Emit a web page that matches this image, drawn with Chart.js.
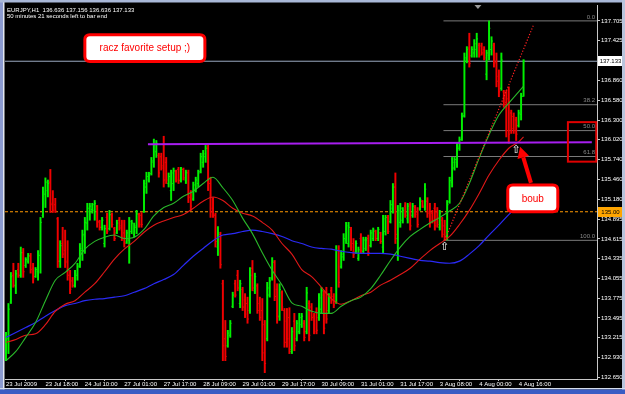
<!DOCTYPE html>
<html>
<head>
<meta charset="utf-8">
<script src="https://cdn.jsdelivr.net/npm/chart.js@4.4.1/dist/chart.umd.min.js"></script>
<style>
html,body{margin:0;padding:0;background:#000;overflow:hidden;}
canvas{display:block;}
</style>
</head>
<body>
<canvas id="chart" width="625" height="394"></canvas>
<script>
// ---------------- DATA (EURJPY, H1) ----------------
const symbolTitle = 'EURJPY,H1  136.636 137.156 136.636 137.133';
const timerText = '50 minutes 21 seconds left to bar end';

// x-axis tick labels: every 16 hourly bars
const timeTickIndex = [0, 16, 32, 48, 64, 80, 96, 112, 128, 144, 160, 176, 192, 208];
const timeTickLabels = ['23 Jul 2009', '23 Jul 18:00', '24 Jul 10:00', '27 Jul 01:00', '27 Jul 17:00',
  '28 Jul 09:00', '29 Jul 01:00', '29 Jul 17:00', '30 Jul 09:00', '31 Jul 01:00', '31 Jul 17:00',
  '3 Aug 08:00', '4 Aug 00:00', '4 Aug 16:00'];

// price-axis tick labels
const priceTickLabels = ['137.705', '137.425', '136.860', '136.580', '136.300', '136.020', '135.740',
  '135.460', '135.180', '134.895', '134.615', '134.335', '134.055', '133.775', '133.495', '133.215',
  '132.930', '132.650'];

// OHLC bars (one per hour)
const open = [132.95,133.20,133.72,134.10,133.95,134.18,134.10,134.42,134.24,134.30,
  134.37,134.20,134.08,134.15,134.38,134.95,135.25,135.30,135.42,135.12,
  135.10,134.90,134.30,134.55,134.45,134.30,134.10,134.02,133.96,134.10,
  134.24,134.45,134.66,134.84,135.00,135.03,135.02,135.08,134.86,134.78,
  134.55,134.92,134.76,134.95,134.76,134.70,134.88,134.80,134.70,134.57,
  134.60,134.72,134.68,134.78,134.96,134.95,135.00,135.35,135.45,135.54,
  135.70,135.85,135.80,135.78,135.65,135.70,135.40,135.30,135.40,135.57,
  135.60,135.45,135.60,135.45,135.55,135.22,135.18,135.32,135.40,135.57,
  135.70,135.78,135.90,135.40,135.05,134.95,134.50,134.68,133.98,133.20,
  133.10,133.25,133.66,133.98,134.10,133.70,133.90,133.75,133.70,133.60,
  134.20,133.88,133.95,133.70,133.60,133.40,133.20,133.82,134.06,134.28,
  133.90,133.52,133.85,133.60,133.45,133.50,133.02,133.45,133.20,133.30,
  133.40,133.42,133.30,133.70,133.65,133.52,133.58,133.50,133.62,133.82,
  133.85,133.60,133.88,133.80,133.72,134.45,134.22,134.36,134.60,134.55,
  134.75,134.55,134.43,134.34,134.62,134.44,134.48,134.62,134.52,134.62,
  134.72,134.62,134.70,134.50,134.72,134.92,134.86,135.05,135.35,134.62,
  134.85,134.88,135.08,134.90,135.10,134.95,135.06,135.00,135.04,135.15,
  135.06,135.15,135.00,134.98,135.05,135.00,134.78,134.88,134.80,134.66,
  135.14,135.42,135.62,135.70,135.90,136.03,136.36,137.15,137.32,137.21,
  137.25,137.30,137.36,137.35,137.30,136.95,137.22,137.30,137.36,137.12,
  136.92,136.75,136.70,136.55,136.60,136.40,136.35,136.30,136.22,136.38,
  136.636];
const high = [133.29,133.70,134.14,134.27,134.17,134.27,134.50,134.48,134.35,134.41,
  134.41,134.27,134.21,134.45,134.92,135.35,135.48,135.45,135.60,135.30,
  135.19,134.92,134.59,134.78,134.74,134.59,134.17,134.07,134.17,134.27,
  134.55,134.74,134.92,135.12,135.12,135.12,135.16,135.09,134.88,134.92,
  134.81,134.98,135.02,134.98,134.78,134.88,134.92,134.88,134.88,134.74,
  134.92,134.88,134.84,135.02,134.98,134.99,135.45,135.56,135.56,135.77,
  136.03,136.01,135.83,135.83,136.07,135.77,135.55,135.59,135.62,135.59,
  135.63,135.63,135.62,135.59,135.59,135.30,135.42,135.49,135.59,135.83,
  135.87,135.94,135.97,135.49,135.20,134.98,134.79,134.71,134.03,133.46,
  133.32,133.46,133.86,134.03,134.17,134.03,133.93,133.84,133.79,134.21,
  134.31,134.13,133.98,133.79,133.77,133.46,134.00,134.07,134.35,134.31,
  133.98,133.98,133.88,133.63,133.63,133.64,133.36,133.56,133.46,133.56,
  133.56,133.46,133.93,133.74,133.70,133.56,133.64,133.84,133.93,133.88,
  133.93,133.84,133.93,133.84,134.52,134.52,134.45,134.69,134.85,134.85,
  134.78,134.62,134.59,134.50,134.69,134.64,134.64,134.67,134.74,134.77,
  134.74,134.78,134.71,134.95,134.95,134.95,135.16,135.40,135.55,135.09,
  135.12,135.06,135.13,135.12,135.13,135.12,135.09,135.06,135.20,135.16,
  135.40,135.20,135.12,135.02,135.12,135.06,135.02,134.92,134.88,135.16,
  135.49,135.77,135.77,135.97,136.06,136.40,137.25,137.34,137.53,137.34,
  137.44,137.53,137.39,137.39,137.34,137.29,137.705,137.48,137.39,137.25,
  137.01,137.25,136.72,136.72,136.77,136.44,136.40,136.34,136.44,136.68,
  137.156];
const low = [132.89,132.99,133.70,133.93,133.84,134.07,134.07,134.07,134.21,134.27,
  134.13,133.99,134.07,134.03,134.13,134.92,135.06,135.21,134.99,134.99,
  134.99,134.21,134.21,134.35,134.21,134.03,133.84,133.93,133.93,134.03,
  134.21,134.31,134.41,134.74,134.88,134.98,134.88,134.78,134.74,134.74,
  134.50,134.69,134.74,134.78,134.59,134.69,134.74,134.59,134.50,134.55,
  134.27,134.69,134.64,134.69,134.78,134.78,134.99,135.26,135.42,135.52,
  135.63,135.77,135.49,135.59,135.35,135.40,135.35,135.16,135.30,135.42,
  135.40,135.42,135.45,135.40,135.13,135.02,135.16,135.28,135.35,135.55,
  135.63,135.70,135.30,134.92,134.92,134.50,134.38,134.20,132.89,132.89,
  133.08,133.22,133.64,133.79,133.88,133.64,133.60,133.50,133.42,133.56,
  133.88,133.84,133.56,133.46,132.89,132.72,133.17,133.79,134.03,133.74,
  133.42,133.46,133.60,133.08,133.08,132.99,132.99,133.03,133.17,133.27,
  133.36,133.17,133.27,133.17,133.46,133.27,133.27,133.46,133.56,133.27,
  133.42,133.56,133.70,133.64,133.70,133.93,134.20,134.31,134.55,134.50,
  134.45,134.35,134.41,134.31,134.41,134.41,134.45,134.38,134.50,134.59,
  134.59,134.59,134.55,134.41,134.67,134.69,134.84,134.98,134.55,134.31,
  134.78,134.84,134.92,134.84,134.74,134.92,134.92,134.78,135.02,135.06,
  135.02,134.92,134.78,134.84,134.74,134.78,134.74,134.64,134.595,134.60,
  135.12,135.35,135.59,135.63,135.87,136.01,136.34,137.11,137.05,137.19,
  137.19,137.19,137.19,137.22,137.15,136.87,137.15,137.22,137.05,136.77,
  136.63,136.72,136.48,136.06,135.97,136.11,136.11,136.01,136.20,136.30,
  136.636];
const close = [133.22,133.62,134.08,133.96,134.12,134.10,134.42,134.15,134.32,134.38,
  134.18,134.05,134.18,134.40,134.85,135.28,135.42,135.40,135.10,135.02,
  135.01,134.30,134.52,134.40,134.28,134.10,133.90,133.95,134.12,134.22,
  134.48,134.68,134.85,135.05,135.08,135.10,135.12,134.85,134.78,134.88,
  134.76,134.72,134.96,134.82,134.62,134.84,134.77,134.62,134.55,134.70,
  134.86,134.84,134.80,134.97,134.82,134.82,135.40,135.50,135.52,135.72,
  135.95,135.97,135.55,135.62,135.45,135.45,135.50,135.55,135.58,135.45,
  135.44,135.60,135.48,135.56,135.20,135.08,135.38,135.45,135.55,135.78,
  135.82,135.90,135.40,135.00,134.96,134.58,134.70,134.25,133.10,132.95,
  133.28,133.42,133.82,133.82,133.92,133.98,133.65,133.55,133.48,134.10,
  133.92,134.08,133.60,133.50,133.00,132.85,133.92,134.02,134.30,133.80,
  133.50,133.90,133.65,133.15,133.20,133.05,133.30,133.10,133.42,133.50,
  133.52,133.22,133.85,133.25,133.50,133.30,133.32,133.78,133.88,133.35,
  133.48,133.80,133.74,133.68,134.45,134.00,134.40,134.62,134.80,134.78,
  134.50,134.40,134.55,134.46,134.45,134.60,134.60,134.42,134.70,134.74,
  134.62,134.75,134.58,134.90,134.92,134.72,135.10,135.35,134.68,135.02,
  135.05,135.02,134.95,135.08,134.80,135.08,134.96,134.82,135.17,135.08,
  135.32,134.98,134.84,134.88,134.80,134.82,134.98,134.68,134.65,135.10,
  135.44,135.70,135.74,135.92,136.02,136.35,137.18,137.30,137.10,137.30,
  137.38,137.45,137.22,137.25,137.18,137.25,137.60,137.42,137.10,136.85,
  136.70,137.15,136.52,136.15,136.10,136.18,136.15,136.10,136.40,136.636,
  137.133];

// moving averages, read every 4 bars
const maIndex = [0,4,8,12,16,20,24,28,32,36,40,44,48,52,56,60,64,68,72,76,80,84,88,92,96,100,
  104,108,112,116,120,124,128,132,136,140,144,148,152,156,160,164,168,172,176,180,184,188,192,196,
  200,204,208,210];
const maFast = [132.89,133.02,133.22,133.43,133.74,134.03,134.14,134.27,134.47,134.58,134.64,134.67,
  134.62,134.64,134.75,134.94,135.06,135.12,135.22,135.29,135.40,135.49,135.34,135.16,134.91,134.69,
  134.42,134.17,133.96,133.71,133.66,133.59,133.56,133.56,133.66,133.74,133.79,133.91,134.10,134.31,
  134.50,134.65,134.75,134.84,134.92,135.01,135.12,135.40,135.76,136.09,136.37,136.54,136.70,136.78];
const maMid = [133.15,133.19,133.25,133.27,133.40,133.59,133.69,133.74,133.86,133.98,134.15,134.33,
  134.47,134.58,134.71,134.81,134.87,134.92,134.96,135.05,135.15,135.21,135.16,135.05,134.98,134.94,
  134.85,134.74,134.55,134.40,134.18,134.08,133.93,133.77,133.69,133.74,133.81,133.86,133.96,134.03,
  134.11,134.20,134.33,134.45,134.55,134.65,134.82,135.02,135.26,135.52,135.73,135.90,135.99,136.06];
const maSlow = [133.22,133.29,133.36,133.43,133.52,133.60,133.67,133.70,133.74,133.76,133.77,133.79,
  133.81,133.86,133.91,133.98,134.04,134.11,134.24,134.37,134.48,134.59,134.67,134.69,134.72,134.74,
  134.72,134.69,134.65,134.59,134.55,134.50,134.48,134.47,134.44,134.42,134.41,134.41,134.41,134.40,
  134.37,134.34,134.31,134.30,134.28,134.27,134.30,134.40,134.52,134.67,134.81,134.96,135.09,135.16];

// drawn objects
const currentPrice = 137.133;
const alertLevel = 135.00;
const fibHigh = 137.705, fibLow = 134.595, fibStartBar = 177.5;
const fibRatios = [0, 38.2, 50, 61.8, 100];
const supportLine = [{x: 57.6, y: 135.955}, {x: 237.7, y: 135.985}];
const trendLine = [{x: 178, y: 134.595}, {x: 214.2, y: 137.66}];
</script>
<script>
// ---------------- LAYOUT / STYLE ----------------
const X_MIN = -0.4, X_MAX = 239.8, Y_MIN = 132.63, Y_MAX = 137.93;
const FONT = 'Liberation Sans, Arial, sans-serif';
const notes = {
  setupBox: {x0: 32, x1: 80.7, y0: 137.51, y1: 137.13, text: 'racz favorite setup ;)'},
  boubBox: {x0: 203.6, x1: 223.9, y0: 135.38, y1: 135.00, text: 'boub'},
  arrow: {fromX: 213.0, fromY: 135.41, toX: 208.6, toY: 135.92},
  rect: {x0: 228, x1: 239.5, y0: 136.27, y1: 135.71},
  upArrows: [{x: 178, y: 134.50}, {x: 207, y: 135.87}],
  shiftMarker: 191.5
};

const bullColor = '#00f000', bearColor = '#f00000';
const barPoints = open.map((o, i) => ({x: i, y: [low[i], high[i]]}));
const barColors = open.map((o, i) => close[i] >= o ? bullColor : bearColor);
const maPts = arr => arr.map((v, k) => ({x: maIndex[k], y: v}));
const hLine = (v, x0 = X_MIN, x1 = X_MAX) => [{x: x0, y: v}, {x: x1, y: v}];
const fibLevels = fibRatios.map(r => fibHigh - (fibHigh - fibLow) * r / 100);

const lineDs = (data, color, extra) => Object.assign({
  type: 'line', data, borderColor: color, borderWidth: 1, pointRadius: 0,
  fill: false, tension: 0
}, extra || {});

const datasets = [
  {type: 'bar', label: 'bars', data: barPoints, backgroundColor: barColors, borderWidth: 0,
   barThickness: 1.3, order: 5},
  lineDs(maPts(maFast), '#2ab82a', {order: 2, borderWidth: 1.1, cubicInterpolationMode: 'monotone'}),
  lineDs(maPts(maMid), '#e01818', {order: 2, borderWidth: 1.1, cubicInterpolationMode: 'monotone'}),
  lineDs(maPts(maSlow), '#2a2af5', {order: 2, borderWidth: 1.2, cubicInterpolationMode: 'monotone'}),
  lineDs(hLine(currentPrice), '#9aa9c0', {order: 8}),
  lineDs(hLine(alertLevel), '#ff9900', {order: 8, borderDash: [3, 2]}),
  ...fibLevels.map(v => lineDs(hLine(v, fibStartBar, X_MAX), '#7a7a7a', {order: 8})),
  lineDs(supportLine, '#a81ef0', {order: 1, borderWidth: 2}),
  lineDs(trendLine, '#ff2020', {order: 1, borderDash: [1.2, 1.8], borderWidth: 1.2})
];

function roundRect(ctx, x, y, w, h, r) {
  ctx.beginPath();
  ctx.moveTo(x + r, y); ctx.lineTo(x + w - r, y); ctx.quadraticCurveTo(x + w, y, x + w, y + r);
  ctx.lineTo(x + w, y + h - r); ctx.quadraticCurveTo(x + w, y + h, x + w - r, y + h);
  ctx.lineTo(x + r, y + h); ctx.quadraticCurveTo(x, y + h, x, y + h - r);
  ctx.lineTo(x, y + r); ctx.quadraticCurveTo(x, y, x + r, y); ctx.closePath();
}

const ohlcTicks = {
  id: 'ohlcTicks',
  afterDatasetDraw(chart, args) {
    if (chart.data.datasets[args.index].label !== 'bars') return;
    const {ctx, scales: {x, y}, chartArea} = chart;
    ctx.save();
    ctx.beginPath(); ctx.rect(chartArea.left, chartArea.top, chartArea.width, chartArea.height); ctx.clip();
    open.forEach((o, i) => {
      const px = x.getPixelForValue(i);
      ctx.fillStyle = barColors[i];
      ctx.fillRect(px - 1.3, y.getPixelForValue(o) - 0.5, 1.3, 1);
      ctx.fillRect(px, y.getPixelForValue(close[i]) - 0.5, 1.3, 1);
    });
    ctx.restore();
  }
};

const decor = {
  id: 'decor',
  beforeDraw(chart) {
    const ctx = chart.ctx;
    ctx.save(); ctx.fillStyle = '#000'; ctx.fillRect(0, 0, chart.width, chart.height); ctx.restore();
  },
  afterDraw(chart) {
    const {ctx, scales: {x, y}, chartArea: ca} = chart;
    ctx.save();
    // top-left info text
    ctx.fillStyle = '#ffffff'; ctx.font = '6px ' + FONT; ctx.textBaseline = 'middle'; ctx.textAlign = 'left';
    ctx.fillText(symbolTitle, 7, 10);
    ctx.fillText(timerText, 7, 16.5);
    // fib labels
    ctx.fillStyle = '#8a8a8a'; ctx.textAlign = 'right'; ctx.textBaseline = 'bottom';
    fibLevels.forEach((v, k) => ctx.fillText(fibRatios[k].toFixed(1), ca.right - 2, y.getPixelForValue(v) - 1));
    // shift marker
    const sx = x.getPixelForValue(notes.shiftMarker);
    ctx.fillStyle = '#9a9a9a';
    ctx.beginPath(); ctx.moveTo(sx - 3.5, ca.top); ctx.lineTo(sx + 3.5, ca.top); ctx.lineTo(sx, ca.top + 4); ctx.closePath(); ctx.fill();
    // up arrows
    ctx.fillStyle = '#ffffff'; ctx.font = '11px DejaVu Sans'; ctx.textAlign = 'center'; ctx.textBaseline = 'middle';
    notes.upArrows.forEach(a => ctx.fillText('\u21E7', x.getPixelForValue(a.x), y.getPixelForValue(a.y)));
    // callout boxes
    [notes.setupBox, notes.boubBox].forEach(b => {
      const x0 = x.getPixelForValue(b.x0), x1 = x.getPixelForValue(b.x1);
      const y0 = y.getPixelForValue(b.y0), y1 = y.getPixelForValue(b.y1);
      roundRect(ctx, x0, y0, x1 - x0, y1 - y0, 5);
      ctx.fillStyle = '#ffffff'; ctx.fill();
      ctx.lineWidth = 3; ctx.strokeStyle = '#ff0000'; ctx.stroke();
      ctx.fillStyle = '#ff0000'; ctx.font = '10px ' + FONT; ctx.textAlign = 'center'; ctx.textBaseline = 'middle';
      ctx.fillText(b.text, (x0 + x1) / 2, (y0 + y1) / 2 + 0.5);
    });
    // red arrow
    const ax0 = x.getPixelForValue(notes.arrow.fromX), ay0 = y.getPixelForValue(notes.arrow.fromY);
    const ax1 = x.getPixelForValue(notes.arrow.toX), ay1 = y.getPixelForValue(notes.arrow.toY);
    const ang = Math.atan2(ay1 - ay0, ax1 - ax0), head = 11;
    const bx = ax1 - Math.cos(ang) * head, by = ay1 - Math.sin(ang) * head;
    ctx.strokeStyle = '#ff0000'; ctx.fillStyle = '#ff0000'; ctx.lineWidth = 4;
    ctx.beginPath(); ctx.moveTo(ax0, ay0); ctx.lineTo(bx, by); ctx.stroke();
    ctx.beginPath(); ctx.moveTo(ax1, ay1);
    ctx.lineTo(bx + Math.cos(ang + Math.PI / 2) * 6, by + Math.sin(ang + Math.PI / 2) * 6);
    ctx.lineTo(bx + Math.cos(ang - Math.PI / 2) * 6, by + Math.sin(ang - Math.PI / 2) * 6);
    ctx.closePath(); ctx.fill();
    // red rectangle
    const r = notes.rect;
    const rx0 = x.getPixelForValue(r.x0), rx1 = x.getPixelForValue(r.x1);
    const ry0 = y.getPixelForValue(r.y0), ry1 = y.getPixelForValue(r.y1);
    ctx.lineWidth = 2; ctx.strokeStyle = '#e00000'; ctx.strokeRect(rx0, ry0, rx1 - rx0, ry1 - ry0);
    // price boxes on the axis
    const box = (v, txt, bg) => {
      const py = Math.round(y.getPixelForValue(v));
      ctx.fillStyle = bg; ctx.fillRect(ca.right + 1, py - 5, 25, 10);
      ctx.fillStyle = '#000'; ctx.font = '6px ' + FONT; ctx.textAlign = 'center'; ctx.textBaseline = 'middle';
      ctx.fillText(txt, ca.right + 13.5, py + 0.5);
    };
    box(currentPrice, currentPrice.toFixed(3), '#ffffff');
    box(alertLevel, alertLevel.toFixed(2), '#ffa500');
    // window frame
    ctx.fillStyle = '#8c9bd0'; ctx.fillRect(0, 0, 3, chart.height);
    ctx.fillStyle = '#e4e8f0'; ctx.fillRect(3, 0, 1.5, chart.height);
    ctx.fillStyle = '#a9b8d8'; ctx.fillRect(0, 0, chart.width, 2.5);
    ctx.fillStyle = '#b8c4dc'; ctx.fillRect(chart.width - 3, 0, 3, chart.height);
    ctx.fillStyle = '#d4dcec'; ctx.fillRect(0, 388, chart.width, 1.5);
    ctx.fillStyle = '#3a5cc4'; ctx.fillRect(0, 389.5, chart.width, 4.5);
    ctx.restore();
  }
};

new Chart(document.getElementById('chart'), {
  type: 'bar',
  data: {datasets},
  options: {
    responsive: false, animation: false, devicePixelRatio: 1,
    layout: {padding: {left: 5, top: 5, right: 0, bottom: 0}},
    plugins: {legend: {display: false}, tooltip: {enabled: false}},
    scales: {
      x: {
        type: 'linear', min: X_MIN, max: X_MAX, offset: false,
        grid: {display: true, drawOnChartArea: false, drawTicks: true, tickLength: 2, color: '#c8c8c8'},
        border: {display: true, color: '#c8c8c8'},
        ticks: {color: '#ffffff', font: {family: FONT, size: 6}, autoSkip: false, maxRotation: 0,
          padding: 0, align: 'start',
          callback: v => timeTickLabels[timeTickIndex.indexOf(v)]},
        afterBuildTicks: s => { s.ticks = timeTickIndex.map(v => ({value: v})); },
        afterFit: s => { s.height = 15; }
      },
      y: {
        type: 'linear', position: 'right', min: Y_MIN, max: Y_MAX,
        grid: {display: true, drawOnChartArea: false, drawTicks: true, tickLength: 3, color: '#c8c8c8'},
        border: {display: true, color: '#c8c8c8'},
        ticks: {color: '#ffffff', font: {family: FONT, size: 6}, padding: 1,
          callback: v => { const k = priceTickLabels.findIndex(t => Math.abs(parseFloat(t) - v) < 1e-6); return k >= 0 ? priceTickLabels[k] : ''; }},
        afterBuildTicks: s => { s.ticks = priceTickLabels.map(t => ({value: parseFloat(t)})); },
        afterFit: s => { s.width = 28; }
      }
    }
  },
  plugins: [ohlcTicks, decor]
});
</script>
</body>
</html>
